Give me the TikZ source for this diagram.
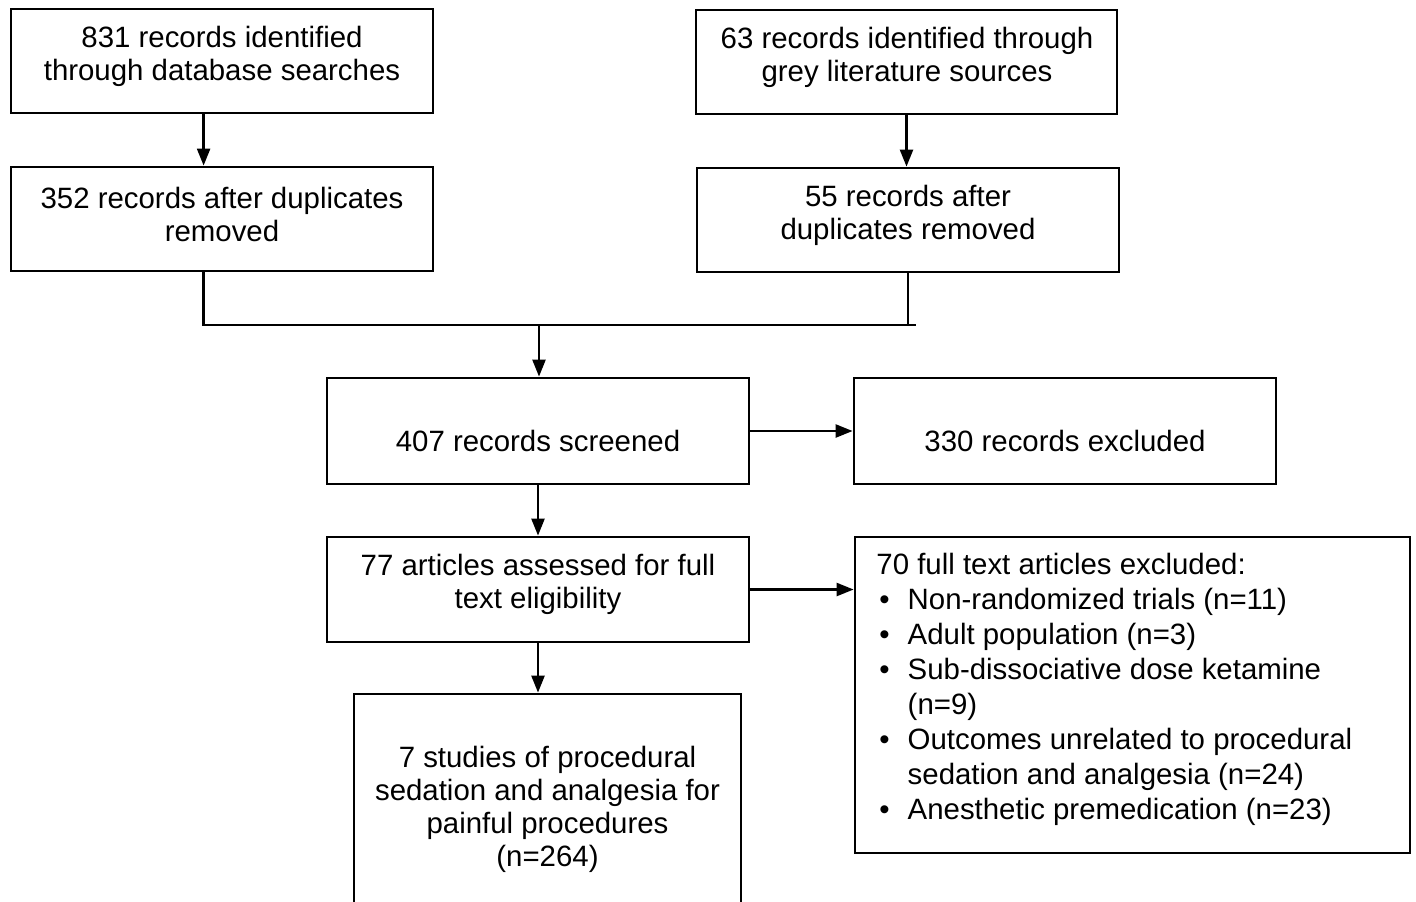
\documentclass[tikz,border=0pt]{standalone}
\usepackage{fontspec}
\setmainfont{Liberation Sans}
\usetikzlibrary{arrows.meta}
\begin{document}
\begin{tikzpicture}[x=0.5pt,y=-0.5pt,
  box/.style={draw, line width=1.4pt, inner sep=0pt},
  txt/.style={inner sep=0pt, align=center, font=\fontsize{14.7}{16.5}\selectfont},
  arr/.style={line width=1.2pt, -{Triangle[length=8.5pt,width=6.5pt]}},
  ln/.style={line width=1.4pt}]
\useasboundingbox (0,0) rectangle (1416,901);
% boxes
\node[box, minimum width=211pt, minimum height=52pt] (a) at (222,61) {};
\node[box, minimum width=210.5pt, minimum height=52pt] (b) at (906.5,62) {};
\node[box, minimum width=211pt, minimum height=52pt] (c) at (222,219) {};
\node[box, minimum width=211pt, minimum height=52pt] (d) at (908,220) {};
\node[box, minimum width=211pt, minimum height=53pt] (e) at (538,431) {};
\node[box, minimum width=211pt, minimum height=53pt] (f) at (1065,431) {};
\node[box, minimum width=211pt, minimum height=52.5pt] (g) at (538,589.5) {};
\node[box, minimum width=277.5pt, minimum height=158pt] (h) at (1132.5,695) {};
\node[box, minimum width=193.5pt, minimum height=120pt] (i) at (547.5,814) {};
% texts
\node[txt] (ta) at (222,56) {831 records identified\\through database searches};
\node[txt] (tb) at (907,57) {63 records identified through\\grey literature sources};
\node[txt] (tc) at (222,214) {352 records after duplicates\\removed};
\node[txt] (td) at (908,215) {55 records after\\duplicates removed};
\node[txt] (te) at (538,441) {407 records screened};
\node[txt] (tf) at (1065,441) {330 records excluded};
\node[txt] (tg) at (538,584) {77 articles assessed for full\\text eligibility};
\node[txt] (ti) at (547.5,809) {7 studies of procedural\\sedation and analgesia for\\painful procedures\\(n=264)};
\node[inner sep=0pt, anchor=north west, font=\fontsize{14.7}{17.5}\selectfont] (th) at (876,550)
 {\begin{tabular}{@{}l@{\hspace{9pt}}l@{}}
 \multicolumn{2}{@{}l@{}}{70 full text articles excluded:}\\
 \hspace{1.5pt}\textbullet & Non-randomized trials (n=11)\\
 \hspace{1.5pt}\textbullet & Adult population (n=3)\\
 \hspace{1.5pt}\textbullet & Sub-dissociative dose ketamine\\
  & (n=9)\\
 \hspace{1.5pt}\textbullet & Outcomes unrelated to procedural\\
  & sedation and analgesia (n=24)\\
 \hspace{1.5pt}\textbullet & Anesthetic premedication (n=23)
 \end{tabular}};
% connectors
\coordinate (mj) at (539,325);
\coordinate (mr) at (916,325);
\draw[arr] ([xshift=97pt]a.south west) -- ([xshift=97pt]c.north west);
\draw[arr] (b.south) -- (b.south |- d.north);
\draw[ln] ([xshift=97pt]c.south west) |- (mr);
\draw[ln] (d.south) -- (d.south |- mr);
\draw[arr] (mj) -- (mj |- e.north);
\draw[arr] (e.east) -- (f.west);
\draw[arr] (e.south) -- (g.north);
\draw[arr] (g.east) -- (g.east -| h.west);
\draw[arr] (g.south) -- (g.south |- i.north);
\end{tikzpicture}
\end{document}
